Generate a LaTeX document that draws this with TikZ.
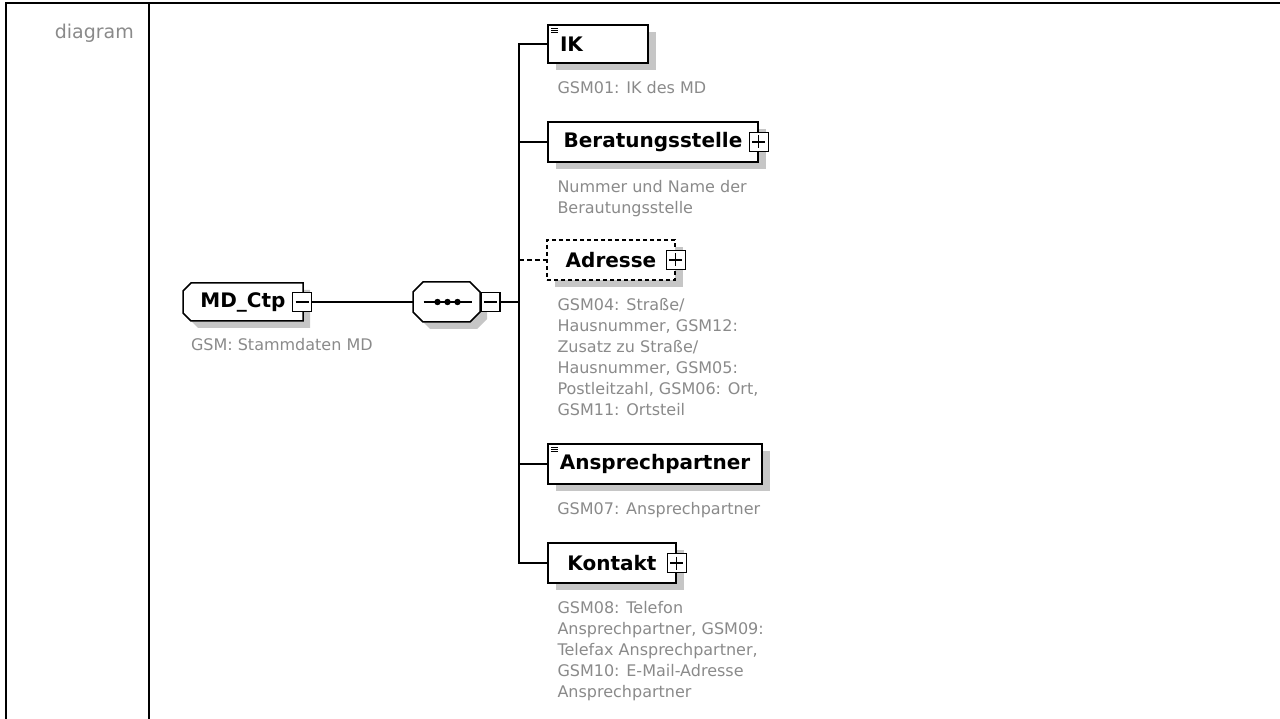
\documentclass[tikz,border=0pt]{standalone}
\usepackage{fontspec}
\setmainfont{DejaVu Sans}
\usepackage{xcolor}
\usepackage{tikz}
\usetikzlibrary{positioning,shadows}
\definecolor{ink}{HTML}{000000}
\definecolor{muted}{HTML}{8A8A8A}
\definecolor{shade}{HTML}{C6C6C6}
\tikzset{
  elem/.style={draw=ink,fill=white,line width=1.4pt,minimum height=40pt,inner xsep=12pt,inner ysep=0pt,font=\fontsize{20}{22}\selectfont\bfseries,text=ink,drop shadow={shadow xshift=8pt,shadow yshift=-7pt,fill=shade,opacity=1}},
  optelem/.style={elem,dash pattern=on 4pt off 3pt},
  leaf/.style={path picture={\foreach \k in {0,1,2} \draw[line width=0.9pt,solid] ([xshift=3pt,yshift={-3pt-2.2pt*\k}]path picture bounding box.north west) -- ++(7pt,0pt);}},
  label/.style={inner sep=0pt,font=\fontsize{20}{22}\selectfont\bfseries,text=ink},
  shadowfill/.style={fill=shade},
  outline/.style={draw=ink,fill=white,line width=1.5pt},
  % root element, chamfered on the left
  rootshape/.pic={
    \foreach \o/\s in {7/shadowfill,0/outline}
      \path[\s] (\o-52,\o-19) -- (\o+60,\o-19) -- (\o+60,\o+19) -- (\o-52,\o+19) -- (\o-60,\o+11) -- (\o-60,\o-11) -- cycle;
  },
  % sequence compositor
  seqshape/.pic={
    \foreach \o/\s in {7/shadowfill,0/outline}
      \path[\s] (\o-23.5,\o-20) -- (\o+23.5,\o-20) -- (\o+33.5,\o-10) -- (\o+33.5,\o+10) -- (\o+23.5,\o+20) -- (\o-23.5,\o+20) -- (\o-33.5,\o+10) -- (\o-33.5,\o-10) -- cycle;
    \draw[line width=1.4pt] (-23,0) -- (25,0);
    \foreach \d in {-9,1,11} \fill (\d,0) circle[radius=3.2pt];
  },
  toggle/.style={draw=ink,fill=white,line width=1.3pt,minimum size=19pt,inner sep=0pt},
  minus/.style={toggle,path picture={\draw[line width=1.3pt] ([xshift=3pt]path picture bounding box.west) -- ([xshift=-3pt]path picture bounding box.east);}},
  plus/.style={toggle,path picture={\draw[line width=1.3pt] ([xshift=3pt]path picture bounding box.west) -- ([xshift=-3pt]path picture bounding box.east);
      \draw[line width=1.3pt] ([yshift=-3pt]path picture bounding box.north) -- ([yshift=3pt]path picture bounding box.south);}},
  desc/.style={font=\fontsize{16}{21}\selectfont,text=muted,align=left,inner sep=0pt},
  link/.style={draw=ink,line width=1.4pt},
  frame/.style={draw=ink,line width=2.6pt},
}
\begin{document}
\begin{tikzpicture}[x=1pt,y=-1pt]
  \useasboundingbox (0,0) rectangle (1280,719);
  % table frame
  \draw[frame] (6,719) -- (6,3) -- (1280,3);
  \draw[frame] (149,3) -- (149,719);
  \node[anchor=east,font=\fontsize{19}{22}\selectfont,text=muted,inner sep=0pt] (caption) at (134,33) {diagram};

  % root and sequence
  \pic at (243,302) {rootshape};
  \node[label,minimum width=120pt,minimum height=38pt] (md) at (243,302) {MD\_Ctp};
  \node[minus] (mdm) at (302,302) {};
  \node[desc,below right=17pt and 8pt of md.south west] (mdd) {GSM: Stammdaten MD};
  \pic at (446.5,302) {seqshape};
  \node[minimum width=67pt,minimum height=40pt,inner sep=0pt] (seq) at (446.5,302) {};
  \node[minus,anchor=west] (seqm) at (seq.east) {};
  \coordinate (fork) at (519,302);

  % children
  \node[elem,leaf,text width=76pt,minimum height=38pt] (ik) at (598,44) {IK};
  \node[elem,minimum width=210pt] (ber) at (653,142) {Beratungsstelle};
  \node[plus] (berp) at (ber.east) {};
  \node[optelem,minimum width=128pt] (adr) at (611,260) {Adresse};
  \node[plus] (adrp) at (adr.east) {};
  \node[elem,leaf,minimum width=214pt] (ansp) at (655,464) {Ansprechpartner};
  \node[elem,minimum width=128pt] (kon) at (612,563) {Kontakt};
  \node[plus] (konp) at (kon.east) {};

  \node[desc,below right=17pt and 10pt of ik.south west] (ikd) {GSM01: IK des MD};
  \node[desc,below right=17pt and 10pt of ber.south west] (berd) {Nummer und Name der\\Berautungsstelle};
  \node[desc,below right=17pt and 11pt of adr.south west] (adrd) {GSM04: Straße/\\Hausnummer, GSM12:\\Zusatz zu Straße/\\Hausnummer, GSM05:\\Postleitzahl, GSM06: Ort,\\GSM11: Ortsteil};
  \node[desc,below right=17pt and 10pt of ansp.south west] (anspd) {GSM07: Ansprechpartner};
  \node[desc,below right=17pt and 10pt of kon.south west] (kond) {GSM08: Telefon\\Ansprechpartner, GSM09:\\Telefax Ansprechpartner,\\GSM10: E-Mail-Adresse\\Ansprechpartner};

  % connectors
  \draw[link] (mdm) -- (seq);
  \draw[link] (seqm) -- (fork);
  \foreach \c in {ik,ber,ansp,kon}
    \draw[link] (fork) |- (\c.west);
  \draw[link,dash pattern=on 5pt off 3pt] (fork |- adr.west) -- (adr.west);
\end{tikzpicture}
\end{document}
